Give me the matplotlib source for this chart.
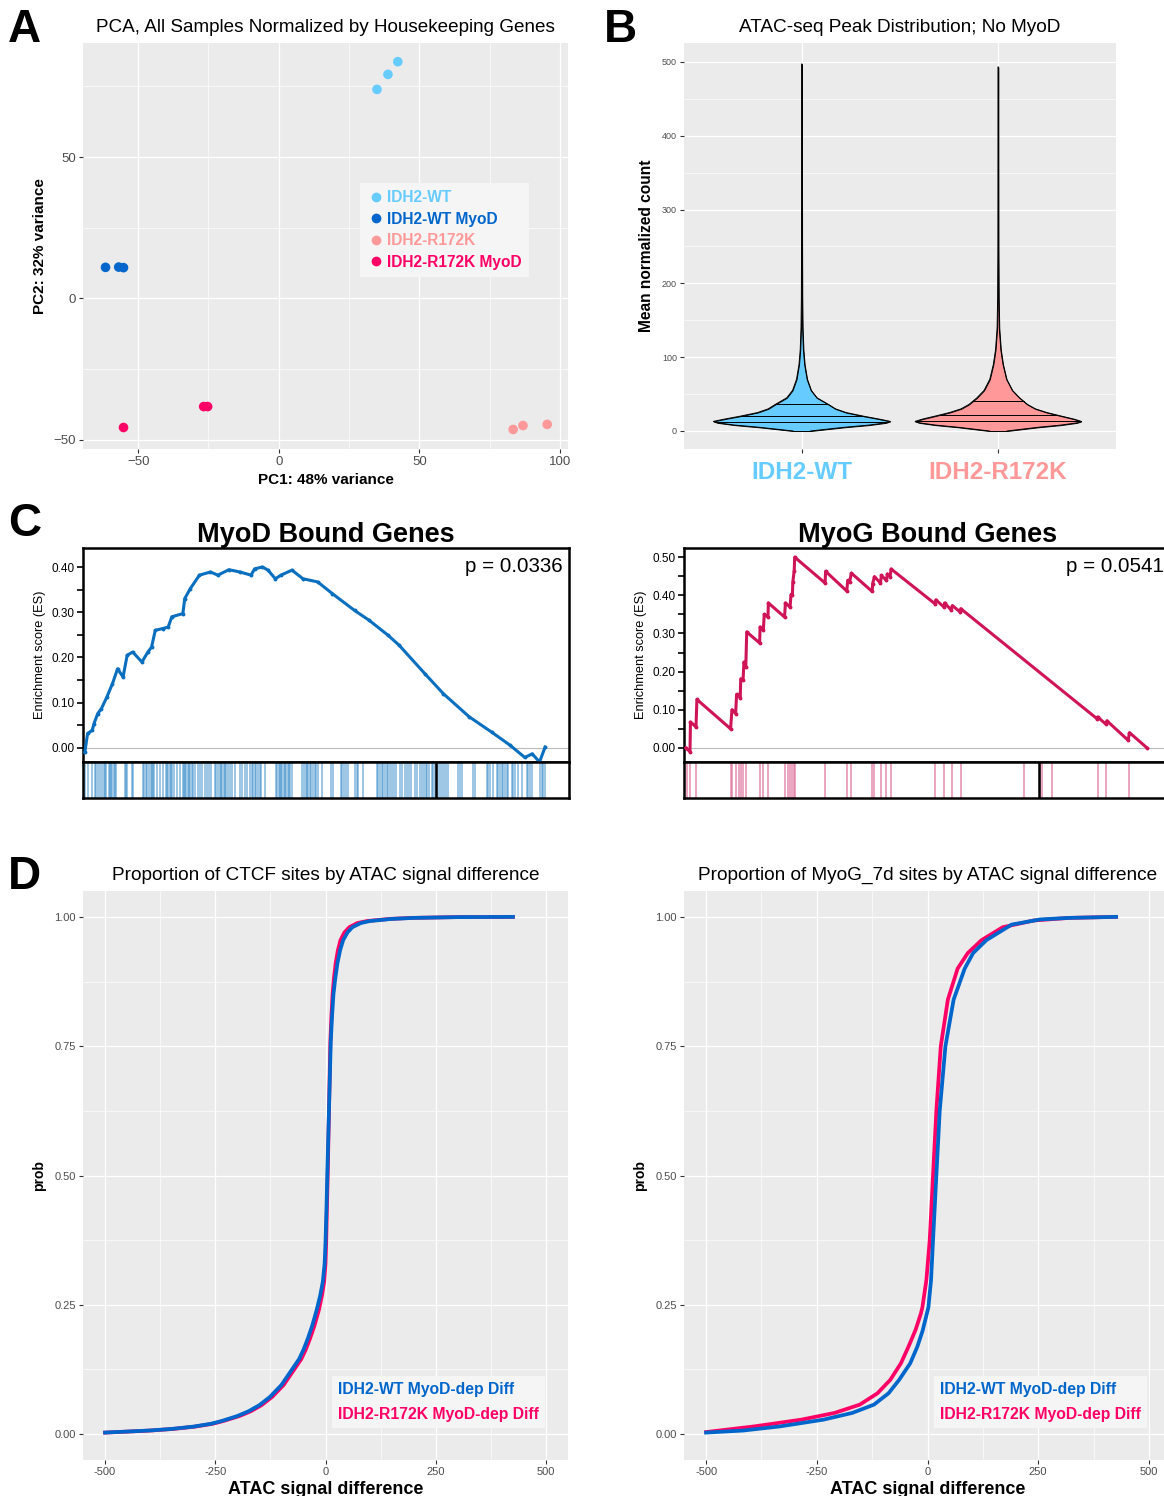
import numpy as np
import matplotlib.pyplot as plt
from matplotlib.lines import Line2D

plt.rcParams['font.family'] = ['Liberation Sans', 'DejaVu Sans']

W, H = 1164, 1496

# ---------------- data ----------------
# A: PCA
pca_groups = ['IDH2-WT', 'IDH2-WT MyoD', 'IDH2-R172K', 'IDH2-R172K MyoD']
pca_colors = ['#66CCFF', '#0066CC', '#FF9999', '#FF0066']
pc1 = [[42.3, 38.8, 34.9], [-61.6, -56.9, -55.2], [83.3, 86.8, 95.4], [-55.2, -26.7, -25.3]]
pc2 = [[83.7, 79.2, 73.9], [11.0, 11.1, 10.9], [-46.3, -44.9, -44.5], [-45.6, -38.2, -38.2]]

# B: violin outlines (half width relative to max)
vio_groups = ['IDH2-WT', 'IDH2-R172K']
vio_colors = ['#66CCFF', '#FF9999']
vio_y = [0, 2, 5, 8, 11, 13, 16, 20, 25, 30, 36, 45, 55, 70, 90, 110, 140, 180, 250, 350, 400, 497]
vio_wt = [0.10, 0.25, 0.48, 0.76, 0.95, 1.00, 0.88, 0.70, 0.50, 0.38, 0.30, 0.17, 0.105, 0.06,
          0.032, 0.018, 0.009, 0.005, 0.003, 0.002, 0.0015, 0.001]
vio_mut = [0.10, 0.24, 0.45, 0.71, 0.89, 0.94, 0.86, 0.72, 0.55, 0.42, 0.33, 0.24, 0.16, 0.095,
           0.055, 0.03, 0.012, 0.006, 0.003, 0.002, 0.0015, 0.001]
vio_top = [497, 493]
vio_quant = [[12, 20, 36], [13, 22, 40]]

# C: running enrichment score (rank on 0..1000 scale)
myod_rank = [0, 6, 16, 20, 28, 36, 48, 60, 71, 83, 92, 104, 124, 137, 145, 153, 169, 181, 189, 213,
             217, 229, 249, 273, 289, 313, 337, 361, 369, 386, 398, 414, 426, 450, 474, 506, 538,
             586, 618, 659, 683, 739, 779, 835, 884, 924, 956, 972, 988, 1000]
myod_es = [-0.009, 0.032, 0.039, 0.054, 0.076, 0.087, 0.113, 0.142, 0.175, 0.157, 0.205, 0.212,
           0.19, 0.212, 0.223, 0.26, 0.264, 0.267, 0.29, 0.297, 0.33, 0.352, 0.382, 0.389, 0.382,
           0.394, 0.389, 0.382, 0.396, 0.4, 0.393, 0.374, 0.382, 0.393, 0.374, 0.367, 0.341, 0.304,
           0.282, 0.249, 0.227, 0.164, 0.12, 0.069, 0.035, 0.006, -0.021, -0.013, -0.031, 0.002]
myod_hits = [1.4, 5.8, 15.9, 21.0, 24.6, 28.3, 31.9, 37.7, 40.6, 44.2, 46.4, 52.2, 55.1, 57.2, 59.4,
             62.3, 64.5, 66.7, 86.2, 88.4, 90.6, 102.2, 104.4, 126.1, 129, 131.9, 135.5, 139.1,
             142.8, 145, 147.8, 150.7, 156.5, 163.8, 169.6, 176.8, 179, 181.2, 184.1, 187, 189.9,
             192.8, 200, 205.8, 213, 215.2, 217.4, 220.3, 223.2, 226.1, 229, 231.9, 234.8, 239.1,
             245.7, 250.7, 255, 260.1, 265.2, 269.6, 274.6, 281.9, 285.5, 289.1, 292.8, 295.7,
             298.6, 301.5, 304.4, 307.3, 310.9, 314.5, 320.3, 325.4, 336.2, 342, 347.1, 352.2, 358,
             362.3, 365.2, 368.8, 372.5, 376.1, 379.7, 383.3, 390.6, 415.9, 418.1, 421, 423.2,
             426.1, 429, 431.9, 434.8, 437.7, 440.6, 443.5, 446.4, 449.3, 472.5, 475.4, 479.7,
             482.6, 485.5, 488.4, 492, 495.7, 499.3, 502.9, 507.2, 515.9, 535.5, 539.9, 555.8,
             558.7, 563.1, 567.4, 572.5, 587, 590.6, 594.2, 605.1, 634.1, 637.7, 641.3, 645, 648.6,
             652.2, 655.8, 659.4, 663.1, 666.7, 671.8, 676.1, 684.8, 688.4, 695.7, 700.8, 705.1,
             708, 717.4, 722.5, 728.3, 731.9, 737, 741.3, 744.2, 748.6, 753.7, 757.3, 760.9, 768.1,
             771.8, 775.4, 780.5, 784.8, 789.9, 811.6, 815.3, 818.9, 844.2, 847.9, 873.2, 876.9,
             880.5, 887.7, 895, 898.6, 902.2, 905.8, 909.4, 913.1, 916.7, 920.3, 927.6, 931.2,
             934.8, 942, 949.3, 960.2, 963.8, 967.4, 971.1, 989.2, 992.8, 996.4, 1000]
myod_zero_cross = 764

myog_rank = [0, 9, 10, 22, 24, 97, 100, 108, 110, 118, 119, 124, 126, 130, 132, 160, 161, 168, 170,
             178, 179, 214, 216, 226, 228, 231, 232, 235, 236, 302, 303, 349, 351, 355, 359, 404,
             405, 409, 422, 424, 435, 437, 443, 445, 540, 542, 560, 561, 575, 578, 595, 596, 891,
             893, 910, 913, 959, 962, 1000]
myog_es = [0, -0.010, 0.068, 0.055, 0.127, 0.05, 0.100, 0.09, 0.140, 0.132, 0.181, 0.177, 0.225,
           0.212, 0.304, 0.275, 0.317, 0.308, 0.35, 0.343, 0.38, 0.343, 0.38, 0.369, 0.402, 0.40,
           0.435, 0.465, 0.5, 0.432, 0.463, 0.411, 0.439, 0.435, 0.458, 0.41, 0.43, 0.449, 0.432,
           0.452, 0.439, 0.456, 0.449, 0.469, 0.378, 0.388, 0.369, 0.380, 0.362, 0.373, 0.356,
           0.365, 0.077, 0.081, 0.063, 0.071, 0.020, 0.040, 0.0]
myog_hits = [2, 9, 23, 98, 101, 109, 115, 119, 125, 131, 160, 168, 179, 214, 221, 226, 231, 235,
             237, 302, 350, 359, 404, 408, 423, 435, 445, 540, 560, 577, 596, 733, 768, 772, 794,
             893, 912, 961]
myog_zero_cross = 765

# D: cumulative proportions
ctcf_p = [0.003, 0.005, 0.007, 0.010, 0.0145, 0.020, 0.0255, 0.035, 0.044, 0.056, 0.072, 0.095,
          0.125, 0.145, 0.163, 0.185, 0.21, 0.24, 0.268, 0.295, 0.33, 0.37, 0.43, 0.5, 0.63, 0.76,
          0.81, 0.85, 0.88, 0.91, 0.935, 0.955, 0.97, 0.98, 0.988, 0.992, 0.996, 0.998, 0.9995, 1.0]
ctcf_wt_x = [-500, -450, -400, -350, -300, -260, -235, -200, -175, -150, -126, -100, -76, -60, -50,
             -40, -30, -20, -12, -6, -2, 0, 2, 4, 8, 12, 15, 18, 22, 27, 33, 40, 50, 61, 80, 101,
             150, 200, 300, 425]
ctcf_mut_x = [-500, -446, -396, -346, -296, -256, -231, -195, -170, -145, -121, -95, -71, -55, -45,
              -35, -25, -15, -8, -3, 0, 1.5, 3, 5, 8, 11, 13.5, 16, 19, 23, 28, 34, 43, 54, 72, 95,
              145, 195, 295, 425]
myog_wt_x = [-500, -416, -333, -235, -170, -121, -88, -64, -39, -23, -11, 2, 8, 12.5, 20, 27.6,
             40.5, 59, 84, 103, 133, 190, 254, 319, 426]
myog_wt_p = [0.003, 0.007, 0.015, 0.028, 0.041, 0.057, 0.079, 0.105, 0.137, 0.169, 0.20, 0.245,
             0.298, 0.375, 0.5, 0.625, 0.75, 0.84, 0.9, 0.93, 0.955, 0.985, 0.995, 0.998, 1.0]
myog_mut_x = [-500, -391, -285, -210, -153, -113, -84, -60, -43, -27, -15, -11.6, -2.5, 5, 12.5,
              20, 30, 46, 68, 91, 122, 170, 240, 320, 426]
myog_mut_p = [0.004, 0.015, 0.028, 0.041, 0.057, 0.079, 0.105, 0.137, 0.169, 0.2015, 0.233, 0.245,
              0.298, 0.375, 0.5, 0.625, 0.75, 0.84, 0.9, 0.93, 0.955, 0.98, 0.993, 0.998, 1.0]
cdf_labels = ['IDH2-WT MyoD-dep Diff', 'IDH2-R172K MyoD-dep Diff']
cdf_colors = ['#0066CC', '#FF0066']


# ---------------- helpers ----------------
def add_ax(left, top, right, bottom):
    return fig.add_axes([left / W, 1 - bottom / H, (right - left) / W, (bottom - top) / H])


def gg(ax, xmaj, xmin, ymaj, ymin, size=8):
    ax.set_facecolor('#EBEBEB')
    for s in ax.spines.values():
        s.set_visible(False)
    ax.set_xticks(xmaj)
    ax.set_xticks(xmin, minor=True)
    ax.set_yticks(ymaj)
    ax.set_yticks(ymin, minor=True)
    ax.grid(which='major', color='white', lw=0.9)
    ax.grid(which='minor', color='white', lw=0.45)
    ax.set_axisbelow(True)
    ax.tick_params(which='minor', length=0)
    ax.tick_params(which='major', length=3, width=0.8, color='#333333',
                   labelcolor='#4D4D4D', labelsize=size, pad=2)


fig = plt.figure(figsize=(W / 100, H / 100), dpi=100)

for letter, x, y in [('A', 8, 42), ('B', 604, 42), ('C', 8, 536), ('D', 8, 889)]:
    fig.text(x / W, 1 - y / H, letter, fontsize=33, fontweight='bold', va='baseline')

# ---------------- A ----------------
ax = add_ax(83, 43, 568, 449)
gg(ax, [-50, 0, 50, 100], [-25, 25, 75], [-50, 0, 50], [-25, 25, 75], size=9.5)
ax.set_xticklabels(['\u221250', '0', '50', '100'])
ax.set_yticklabels(['\u221250', '0', '50'])
for xs, ys, c in zip(pc1, pc2, pca_colors):
    ax.scatter(xs, ys, s=48, color=c, edgecolor='none', zorder=3)
ax.set_xlim(-69.6, 102.8)
ax.set_ylim(-53.2, 90.3)
ax.set_title('PCA, All Samples Normalized by Housekeeping Genes', fontsize=13.6, pad=8)
ax.set_xlabel('PC1: 48% variance', fontsize=11, fontweight='bold', labelpad=4)
ax.set_ylabel('PC2: 32% variance', fontsize=11, fontweight='bold', labelpad=5)
handles = [Line2D([], [], marker='o', ls='', color=c, markersize=6) for c in pca_colors]
leg = ax.legend(handles, pca_groups, loc='upper left', bbox_to_anchor=(360 / W, 1 - 183 / H),
                bbox_transform=fig.transFigure, borderaxespad=0, labelcolor=pca_colors,
                prop={'weight': 'bold', 'size': 11.2}, frameon=True, fancybox=False,
                handletextpad=0.2, handlelength=1.1, labelspacing=0.42, borderpad=0.45)
leg.get_frame().set_facecolor('#F5F5F5')
leg.get_frame().set_edgecolor('none')
leg.get_frame().set_alpha(1)

# ---------------- B ----------------
ax = add_ax(684, 43, 1116, 449)
gg(ax, [1, 2], [], [0, 100, 200, 300, 400, 500], [50, 150, 250, 350, 450], size=6.5)
yv = np.array(vio_y, dtype=float)
for i, (prof, c) in enumerate(zip([vio_wt, vio_mut], vio_colors)):
    pos = i + 1
    yy = np.append(yv[:-1], vio_top[i])
    hw = 0.45 * np.array(prof)
    ax.fill_betweenx(yy, pos - hw, pos + hw, facecolor=c, edgecolor='black', lw=0.7, zorder=3)
    ax.plot(pos - hw, yy, color='black', lw=0.7, zorder=4)
    ax.plot(pos + hw, yy, color='black', lw=0.7, zorder=4)
    for q in vio_quant[i]:
        w = 0.45 * np.interp(q, yy, prof)
        ax.plot([pos - w, pos + w], [q, q], color='black', lw=0.7, zorder=4)
ax.set_xlim(0.4, 2.6)
ax.set_ylim(-24.4, 525.7)
ax.set_xticklabels(vio_groups, fontsize=17.5, fontweight='bold')
for lab, c in zip(ax.get_xticklabels(), vio_colors):
    lab.set_color(c)
ax.tick_params(axis='x', pad=6)
ax.set_title('ATAC-seq Peak Distribution; No MyoD', fontsize=13.7, pad=8)
ax.set_ylabel('Mean normalized count', fontsize=11.2, fontweight='bold', labelpad=6)


# ---------------- C ----------------
def gsea(left, right, rank, es, hits, cross, color, hitcolor, halpha, ymax, ymin, ymajor,
         title, ptext):
    ax = add_ax(left, 548, right, 762)
    ax.plot(rank, es, color=color, lw=2.2, zorder=3, solid_joinstyle='round',
            marker='o', markersize=1.8)
    ax.axhline(0, color='#BBBBBB', lw=0.8, zorder=1)
    ax.set_xlim(-4, 1052)
    ax.set_ylim(ymin, ymax)
    ax.set_xticks([])
    ax.set_yticks(ymajor)
    ax.set_yticks(np.arange(0, ymajor[-1] + 0.001, 0.05), minor=True)
    ax.set_yticklabels(['%.2f' % v for v in ymajor])
    ax.tick_params(which='both', axis='y', direction='out', width=1.2, color='black',
                   labelsize=8.5, pad=2)
    ax.tick_params(which='major', length=4)
    ax.tick_params(which='minor', length=4)
    for s in ax.spines.values():
        s.set_linewidth(1.8)
    ax.set_ylabel('Enrichment score (ES)', fontsize=9.2, labelpad=4)
    ax.set_title(title, fontsize=19.5, fontweight='bold', pad=1)
    ax.text(0.986, 0.96, ptext, transform=ax.transAxes, ha='right', va='top', fontsize=14.8)
    bx = add_ax(left, 762, right, 798)
    bx.vlines(hits, 0, 1, color=hitcolor, alpha=halpha, lw=1.1)
    bx.axvline(cross, color='black', lw=1.8)
    bx.set_xlim(-4, 1052)
    bx.set_ylim(0, 1)
    bx.set_xticks([])
    bx.set_yticks([])
    for s in bx.spines.values():
        s.set_linewidth(1.8)


gsea(83, 569, myod_rank, myod_es, myod_hits, myod_zero_cross, '#0B6FBF', '#2F86C8', 0.6,
     0.442, -0.031, [0.0, 0.1, 0.2, 0.3, 0.4], 'MyoD Bound Genes', 'p = 0.0336')
gsea(684, 1171, myog_rank, myog_es, myog_hits, myog_zero_cross, '#CF1457', '#E0709C', 0.8,
     0.524, -0.037, [0.0, 0.1, 0.2, 0.3, 0.4, 0.5], 'MyoG Bound Genes', 'p = 0.0541')


# ---------------- D ----------------
def cdf_panel(left, right, wt_x, wt_p, mut_x, mut_p, title, lg_left):
    ax = add_ax(left, 891, right, 1460)
    gg(ax, [-500, -250, 0, 250, 500], [-375, -125, 125, 375],
       [0, 0.25, 0.5, 0.75, 1.0], [0.125, 0.375, 0.625, 0.875], size=8)
    ax.set_xticklabels(['-500', '-250', '0', '250', '500'])
    ax.set_yticklabels(['0.00', '0.25', '0.50', '0.75', '1.00'])
    ax.plot(mut_x, mut_p, color=cdf_colors[1], lw=2.7, zorder=3)
    ax.plot(wt_x, wt_p, color=cdf_colors[0], lw=2.7, zorder=4)
    ax.set_xlim(-550, 550)
    ax.set_ylim(-0.05, 1.05)
    ax.set_title(title, fontsize=13.7, pad=8)
    ax.set_xlabel('ATAC signal difference', fontsize=13, fontweight='bold', labelpad=3)
    ax.set_ylabel('prob', fontsize=10, fontweight='bold', labelpad=6)
    hs = [Line2D([], [], ls='', marker='') for _ in cdf_labels]
    lg = ax.legend(hs, cdf_labels, loc='upper left', bbox_to_anchor=(lg_left / W, 1 - 1376 / H),
                   bbox_transform=fig.transFigure, borderaxespad=0, labelcolor=cdf_colors,
                   prop={'weight': 'bold', 'size': 11.3}, frameon=True, fancybox=False,
                   handlelength=0, handletextpad=0, labelspacing=0.62, borderpad=0.4)
    lg.get_frame().set_facecolor('#F5F5F5')
    lg.get_frame().set_edgecolor('none')
    lg.get_frame().set_alpha(1)


cdf_panel(83, 568, ctcf_wt_x, ctcf_p, ctcf_mut_x, ctcf_p,
          'Proportion of CTCF sites by ATAC signal difference', 332)
cdf_panel(684, 1171, myog_wt_x, myog_wt_p, myog_mut_x, myog_mut_p,
          'Proportion of MyoG_7d sites by ATAC signal difference', 934)

fig.savefig('out.png', dpi=100)
